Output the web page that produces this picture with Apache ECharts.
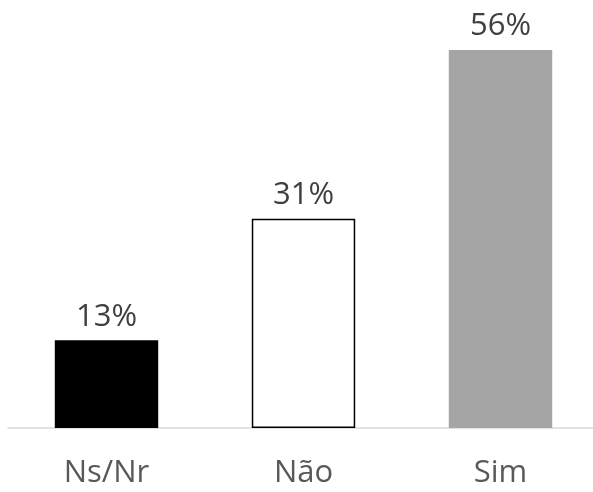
<!DOCTYPE html>
<html>
<head>
<meta charset="utf-8">
<script src="https://cdn.jsdelivr.net/npm/echarts@6/dist/echarts.min.js"></script>
<style>
html, body { margin: 0; padding: 0; background: #fff; overflow: hidden; }
#chart { width: 599px; height: 492px; }
</style>
</head>
<body>
<div id="chart"></div>
<script>
// dados do grafico
var categorias = ['Ns/Nr', 'Não', 'Sim'];
var valores = [13, 31, 56];
var cores = ['#000000', '#ffffff', '#a5a5a5'];

var dados = valores.map(function (v, i) {
    return {
        value: v,
        itemStyle: {
            color: cores[i],
            borderColor: i === 1 ? '#000000' : cores[i],
            borderWidth: i === 1 ? 1.5 : 0
        }
    };
});

var option = {
    animation: false,
    grid: { left: 8, right: 0, top: 23, bottom: 64 },
    xAxis: {
        type: 'category',
        data: categorias,
        axisTick: { show: false },
        axisLine: { lineStyle: { color: '#d9d9d9', width: 1.5 } },
        axisLabel: {
            color: '#595959',
            fontSize: 31,
            fontFamily: 'Open Sans',
            margin: 30
        }
    },
    yAxis: {
        type: 'value',
        min: 0,
        max: 60,
        show: false
    },
    series: [{
        type: 'bar',
        barWidth: '52.5%',
        data: dados,
        label: {
            show: true,
            position: 'top',
            distance: 8,
            formatter: '{c}%',
            color: '#404040',
            fontSize: 31,
            fontFamily: 'Open Sans'
        }
    }]
};

var grafico = echarts.init(document.getElementById('chart'));
grafico.setOption(option);
</script>
</body>
</html>
